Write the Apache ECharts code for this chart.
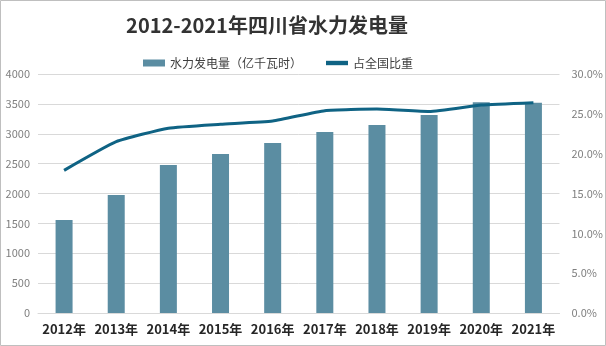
<!DOCTYPE html>
<html><head><meta charset="utf-8">
<script src="https://cdn.jsdelivr.net/npm/echarts@6/dist/echarts.min.js"></script>
<style>html,body{margin:0;padding:0;background:#fff}#c{width:606px;height:346px}</style>
</head><body><div id="c"></div>
<script>
const categories = ['2012年','2013年','2014年','2015年','2016年','2017年','2018年','2019年','2020年','2021年'];
const hydroPower = [1556, 1975, 2477, 2661, 2845, 3029, 3146, 3314, 3526, 3520];
const shareOfNation = [17.9, 21.5, 23.2, 23.7, 24.1, 25.4, 25.6, 25.3, 26.1, 26.4];
const chart = echarts.init(document.getElementById('c'), null, {renderer:'canvas'});
const F = '"Noto Sans CJK SC", "Noto Sans", sans-serif';
chart.setOption({
  animation:false,
  backgroundColor:'#fff',
  title:{text:'2012-2021年四川省水力发电量', left:262, top:10, textAlign:'center',
    textStyle:{fontFamily:F, fontSize:20, fontWeight:'bold', color:'#333'}},
  legend:{top:52, left:138, itemGap:24, itemWidth:22, itemHeight:7, itemTextGap:4,
    textStyle:{fontFamily:F, fontSize:12, color:'#404040'},
    data:[{name:'水力发电量（亿千瓦时）', icon:'rect'},{name:'占全国比重', icon:'path://M0,0H10V2H0Z'}]},
  grid:{left:38, right:43, top:74, bottom:33},
  xAxis:{type:'category', data:categories,
    axisLine:{lineStyle:{color:'#d9d9d9'}}, axisTick:{show:false},
    axisLabel:{interval:0, fontFamily:F, fontSize:13, fontWeight:'bold', color:'#262626', margin:10}},
  yAxis:[
    {type:'value', min:0, max:4000, interval:500,
     axisLabel:{fontFamily:F, fontSize:11, color:'#7f7f7f', margin:8, formatter:v=>String(v)},
     splitLine:{lineStyle:{color:'#d9d9d9'}}, axisLine:{show:false}},
    {type:'value', min:0, max:30, interval:5,
     axisLabel:{fontFamily:F, fontSize:11, color:'#7f7f7f', margin:12, formatter:v=>v.toFixed(1)+'%'},
     splitLine:{show:false}, axisLine:{show:false}}
  ],
  series:[
    {name:'水力发电量（亿千瓦时）', type:'bar', data:hydroPower, barWidth:17,
     itemStyle:{color:'#5b8da2'}},
    {name:'占全国比重', type:'line', yAxisIndex:1, data:shareOfNation, smooth:0.15,
     symbol:'none', lineStyle:{width:3, color:'#0f6384'}, itemStyle:{color:'#0f6384'}}
  ],
  graphic:[{type:'rect', shape:{x:0.5,y:0.5,width:605,height:345}, style:{fill:'none', stroke:'#bfbfbf', lineWidth:1}}]
});
</script></body></html>
